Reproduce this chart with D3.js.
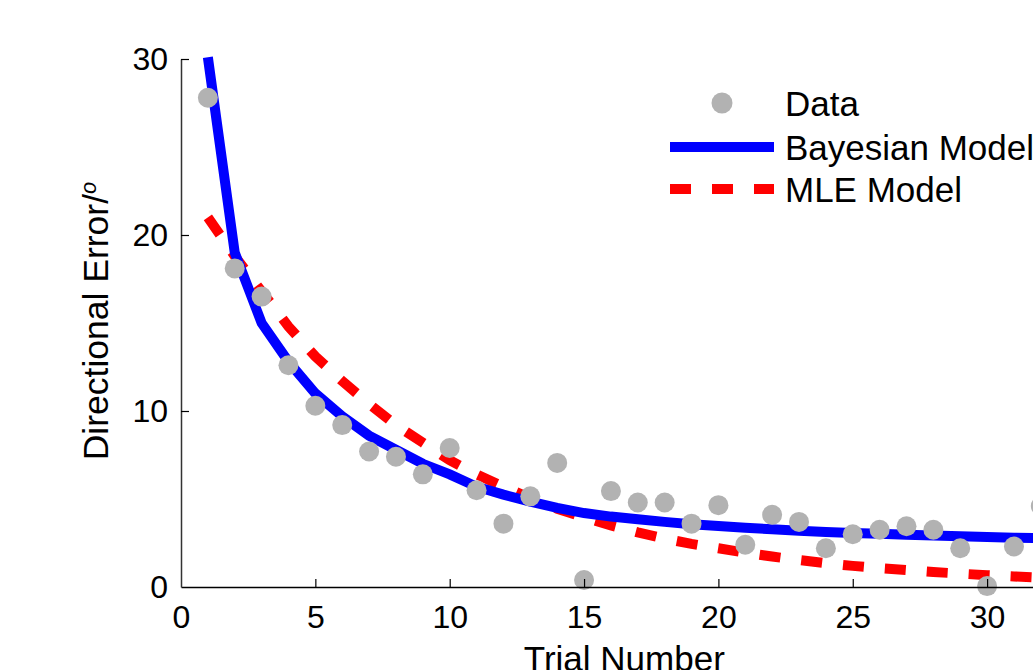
<!DOCTYPE html>
<html>
<head>
<meta charset="utf-8">
<script src="https://cdn.jsdelivr.net/npm/d3@7"></script>
<style>
  html, body { margin: 0; padding: 0; background: #fff; overflow: hidden; }
  text { font-family: "Liberation Sans", Arial, Helvetica, sans-serif; fill: #000; }
</style>
</head>
<body>
<svg id="chart" width="1033" height="670"></svg>
<script>
// ---- data ----
const trials = d3.range(1, 36);
const dataValues = [27.8, 18.1, 16.5, 12.6, 10.3, 9.2, 7.7, 7.4, 6.4, 7.9,
                    5.5, 3.6, 5.15, 7.05, 0.4, 5.45, 4.8, 4.8, 3.6, 4.65,
                    2.4, 4.1, 3.7, 2.2, 3.0, 3.25, 3.45, 3.25, 2.2, 0.05,
                    2.3, 4.6];
const bayesValues = [30.1, 19.0, 15.0, 12.8, 11.0, 9.7, 8.6, 7.8, 7.0, 6.4,
                     5.7, 5.25, 4.85, 4.5, 4.2, 4.0, 3.85, 3.7, 3.57, 3.46,
                     3.36, 3.28, 3.2, 3.13, 3.07, 3.02, 2.97, 2.92, 2.88, 2.84,
                     2.8, 2.77, 2.74, 2.71, 2.69];
const mleValues = [21.0, 18.8, 16.8, 14.8, 13.1, 11.7, 10.4, 9.2, 8.2, 7.2,
                   6.4, 5.7, 5.05, 4.45, 3.95, 3.5, 3.1, 2.75, 2.45, 2.2,
                   1.95, 1.73, 1.53, 1.35, 1.2, 1.07, 0.96, 0.85, 0.76, 0.67,
                   0.6, 0.53, 0.47, 0.42, 0.37];
const xTicks = [0, 5, 10, 15, 20, 25, 30];
const yTicks = [0, 10, 20, 30];
const legendLabels = ["Data", "Bayesian Model", "MLE Model"];
const xLabel = "Trial Number";
const yLabel = "Directional Error/";

// ---- layout ----
const svg = d3.select("#chart");
const plotLeft = 181, plotTop = 59, plotBottom = 587;
const plotRight = plotLeft + 33 * 26.87;
const x = d3.scaleLinear().domain([0, 33]).range([plotLeft, plotRight]);
const y = d3.scaleLinear().domain([0, 30]).range([plotBottom, plotTop]);

const line = (vals) => d3.line()
  .x((d, i) => x(trials[i]))
  .y(d => y(d))(vals);

// MLE (red dashed)
svg.append("path")
  .attr("d", line(mleValues))
  .attr("fill", "none")
  .attr("stroke", "#ff0000")
  .attr("stroke-width", 10)
  .attr("stroke-dasharray", "21,21");

// Bayesian (blue)
svg.append("path")
  .attr("d", line(bayesValues))
  .attr("fill", "none")
  .attr("stroke", "#0000ff")
  .attr("stroke-width", 10)
  .attr("stroke-linejoin", "miter");

// Data points
svg.append("g").selectAll("circle")
  .data(dataValues)
  .join("circle")
  .attr("cx", (d, i) => x(trials[i]))
  .attr("cy", d => y(d))
  .attr("r", 10)
  .attr("fill", "#b2b2b2");

// Axes
const xAxis = d3.axisBottom(x).tickValues(xTicks).tickSize(-8).tickPadding(18).tickSizeOuter(0);
const gx = svg.append("g").attr("transform", `translate(0,${plotBottom})`).call(xAxis);
gx.selectAll("text").style("font-size", "32px").attr("dy", "0.71em");
gx.select(".domain").attr("stroke", "#000").attr("stroke-width", 1.5);
gx.selectAll(".tick line").attr("stroke", "#000").attr("stroke-width", 1.2);
gx.selectAll(".tick").filter(d => d === 0).select("line").remove();

const yAxis = d3.axisLeft(y).tickValues(yTicks).tickSize(-8).tickPadding(13).tickSizeOuter(0);
const gy = svg.append("g").attr("transform", `translate(${plotLeft},0)`).call(yAxis);
gy.selectAll("text").style("font-size", "32px");
gy.select(".domain").attr("stroke", "#333").attr("stroke-width", 1.5);
gy.selectAll(".tick line").attr("stroke", "#000").attr("stroke-width", 1.2);
gy.selectAll(".tick").filter(d => d === 0).select("line").remove();

// Axis labels
svg.append("text")
  .attr("x", (plotLeft + plotRight) / 2)
  .attr("y", 671)
  .attr("text-anchor", "middle")
  .style("font-size", "35px")
  .text(xLabel);

const yl = svg.append("text")
  .attr("transform", `translate(108,321) rotate(-90)`)
  .attr("text-anchor", "middle")
  .style("font-size", "35.5px");
yl.append("tspan").text(yLabel);
yl.append("tspan").attr("baseline-shift", "super").style("font-size", "22px")
  .style("font-style", "italic").text("o");

// Legend
const lg = svg.append("g");
const rowsY = [103, 147, 189];
lg.append("circle").attr("cx", 722).attr("cy", rowsY[0]).attr("r", 10.5).attr("fill", "#b2b2b2");
lg.append("line").attr("x1", 670).attr("x2", 774).attr("y1", rowsY[1]).attr("y2", rowsY[1])
  .attr("stroke", "#0000ff").attr("stroke-width", 10);
lg.append("line").attr("x1", 670).attr("x2", 774).attr("y1", rowsY[2]).attr("y2", rowsY[2])
  .attr("stroke", "#ff0000").attr("stroke-width", 10).attr("stroke-dasharray", "21,21");
lg.selectAll("text.lab").data(legendLabels).join("text")
  .attr("class", "lab")
  .attr("x", 785)
  .attr("y", (d, i) => rowsY[i])
  .attr("dy", "0.36em")
  .style("font-size", "35px")
  .text(d => d);
</script>
</body>
</html>
